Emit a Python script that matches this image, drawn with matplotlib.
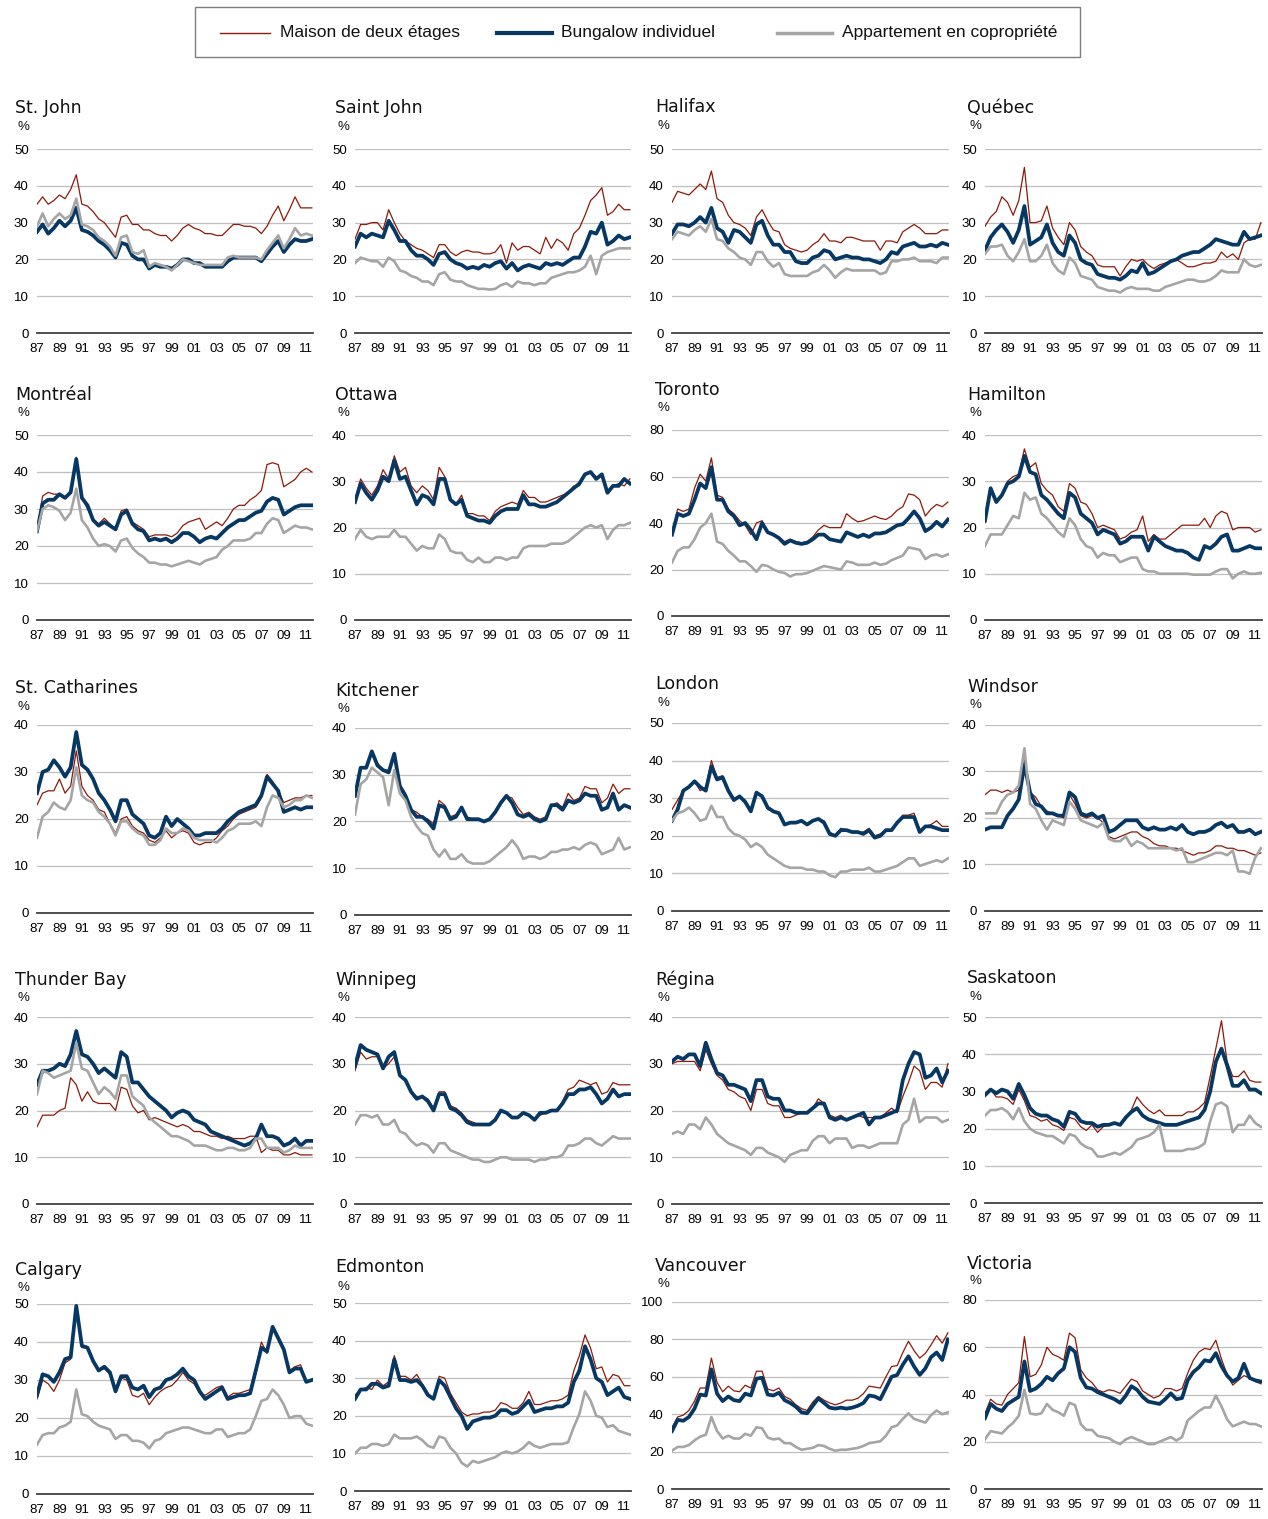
import numpy as np
import matplotlib
matplotlib.use("Agg")
import matplotlib.pyplot as plt
from matplotlib.lines import Line2D
from matplotlib.patches import Rectangle
from matplotlib import font_manager

# ---------------- data (half-yearly, 1987.0 ... 2011.5) ----------------
PERIODS = np.arange(1987.0, 2012.0, 0.5)
TICK_YEARS = [1987, 1989, 1991, 1993, 1995, 1997, 1999, 2001, 2003, 2005, 2007, 2009, 2011]
TICK_LABELS = ["87", "89", "91", "93", "95", "97", "99", "01", "03", "05", "07", "09", "11"]
SERIES_NAMES = ["Maison de deux étages", "Bungalow individuel", "Appartement en copropriété"]

st_john_maison = [35,37,35,36,37.5,36.5,39,43,35,34.5,33,31,30,28,26,31.5,32,29.5,29.5,28,28,27,26.5,26.5,25,26.5,28.5,29.5,28.5,28,27,27,26.5,26.5,28,29.5,29.5,29,29,28.5,27,29,32,34.5,30.5,33.5,37,34,34,34]
st_john_bungalow = [27.5,29.5,27,28.5,30.5,29,30.5,34,28,27.5,26.5,25,24,22.5,20.5,24.5,24,21,20,20,17.5,18.5,18,18,17.5,18.5,20,20,19,19,18,18,18,18,19.5,20.5,20.5,20.5,20.5,20.5,19.5,21.5,23.5,25,22,24,25.5,25,25,25.5]
st_john_appart = [29,32.5,29,31,32.5,31,32,36.5,29.5,29,28,26,25,23.5,21,26,26.5,22,21.5,22.5,18,19,18.5,18,17,18.5,20,19.5,19,18.5,18.5,18.5,18.5,18.5,20.5,21,20.5,20.5,20.5,20.5,20,22.5,24.5,26.5,23,25.5,28.5,26.5,27,26.5]

saint_john_maison = [25.5,29.5,29.5,30,30,28,33.5,30,27,25,24,23,22.5,21.5,20.5,24,24,22,21,22,22.5,22,22,21.5,21.5,22,24,19,24.5,22.5,23.5,23.5,22.5,21.5,26,23,25.5,24.5,22.5,27,28.5,32,36,37.5,39.5,32,33,35,33.5,33.5]
saint_john_bungalow = [23.5,27,26,27,26.5,26,30.5,28,25,25,22.5,21,21,20,18.5,21.5,22,20,19,18.5,17.5,18,17.5,18.5,18,19,19.5,17.5,19,17,18,18.5,18,17.5,19,18.5,19,18.5,19.5,20.5,20.5,23.5,27.5,27,30,24,25,26.5,25.5,26]
saint_john_appart = [19,20.5,20,19.5,19.5,18,20.5,19.5,17,16.5,15.5,15,14,14,13,16,16.5,14.5,14,14,13,12.5,12,12,11.8,12,13,13.5,12.5,14,13.5,13.5,13,13.5,13.5,15,15.5,16,16.5,16.5,17,18,21,16,21,22,22.5,23,23,23]

halifax_maison = [35.5,38.5,38,37.5,39,40.5,39,44,36.5,35.5,32,30,29.5,28.5,26.5,31.5,33.5,30.5,28,27.5,24,23,22.5,22,22.5,24,25,27,25,25,24.5,26,26,25.5,25,25,25,22.5,25,25,24.5,27.5,28.5,29.5,28.5,27,27,27,28,28]
halifax_bungalow = [27,29.5,29.5,29,30,31.5,30,34,28.5,27.5,24.5,28,27.5,26,24.5,29.5,30.5,26.5,24,24,22,22,19.5,19,19,20.5,21,22.5,22,20,20.5,21,20.5,20.5,20,20,19.5,19,20,22,21.5,23.5,24,24.5,23.5,23.5,24,23.5,24.5,24]
halifax_appart = [25.5,27.5,27,26.5,28,29,27.5,31,25.5,25,23,22,20.5,20,18.5,22,22,19.5,18,19,16,15.5,15.5,15.5,15.5,16.5,17,18.5,17,15,16.5,17.5,17,17,17,17,17,16,16.5,19.5,19.5,20,20,20.5,19.5,19.5,19.5,19,20.5,20.5]

quebec_maison = [29,31.5,33,37,35.5,32,36,45,30,30,30.5,34.5,28.5,26,24,30,28,23.5,22,21,18.5,18,18,18,15.5,18,20,19.5,20,18.5,17.5,18.5,19,19.5,20,19,18,18,18.5,19,19,19.5,22,20.5,21.5,20,24.5,25.5,25.5,30]
quebec_bungalow = [22.5,26,28,29.5,27.5,24.5,28,34.5,24,25,26,29.5,24.5,22,21,26.5,24.5,20,19,18.5,16,15.5,15,15,14.5,15.5,17,16.5,19,16,16.5,17.5,18.5,19.5,20,21,21.5,22,22,23,24,25.5,25,24.5,24,24,27.5,25.5,26,26.5]
quebec_appart = [21.5,23.5,23.5,24,21,19.5,22,25.5,19.5,19.5,21,24,19,17,16,20.5,19,15.5,15,14.5,12.5,12,11.5,11.5,11,12,12.5,12,12,12,11.5,11.5,12.5,13,13.5,14,14.5,14.5,14,14,14.5,15.5,17,16.5,16.5,16.5,20,18.5,18,18.5]

montreal_maison = [24,33.5,34.5,34,34,33,35,44,33,30,27,26,27.5,26,24.5,29.5,30,26.5,25.5,24.5,22.5,23,23,23,22.5,23.5,25.5,26.5,27,27.5,24.5,25.5,26.5,25.5,27.5,30,31,31,32.5,33.5,35,42,42.5,42,36,37,38,40,41,40]
montreal_bungalow = [24,31.5,32.5,32.5,34,33,34.5,43.5,33,31,27,25.5,26.5,25.5,24.5,28.5,29.5,26,24.5,24,21.5,22,21.5,22,21,22,23.5,23.5,22.5,21,22,22.5,22,23.5,25,26,27,27,28,29,29.5,32,33,32.5,28.5,29.5,30.5,31,31,31]
montreal_appart = [24,30,31,30.5,29.5,27,29,35.5,27,25,22,20,20.5,20,18.5,21.5,22,19.5,18,17,15.5,15.5,15,15,14.5,15,15.5,16,15.5,15,16,16.5,17,19,20,21.5,21.5,21.5,22,23.5,23.5,26,27.5,27,23.5,24.5,25.5,25,25,24.5]

ottawa_maison = [26,30.5,28.5,27,29,32.5,30.5,35.5,32,33,29,27.5,29,28,26,33,31,26,25,27,23,23,22.5,22.5,21.5,23.5,24.5,25,25.5,25,28,26.5,26.5,25.5,25.5,26,26.5,27,27.5,29,29,31.5,32,31,31,28,29,29.5,29,30.5]
ottawa_bungalow = [25.5,29.5,27.5,26,28,31,30,34.5,30.5,31,28,25,27,26.5,25,30.5,30.5,26,25,26,22.5,22,21.5,21.5,21,22.5,23.5,24,24,24,27,25,25,24.5,24.5,25,25.5,26.5,27.5,28.5,29.5,31.5,32,30.5,31.5,27.5,29,29,30.5,29.5]
ottawa_appart = [17.5,19.5,18,17.5,18,18,18,19.5,18,18,16.5,15,16,15.5,15.5,18.5,17.5,15,14.5,14.5,13,12.5,13.5,12.5,12.5,13.5,13.5,13,13.5,13.5,15.5,16,16,16,16,16.5,16.5,16.5,17,18,19,20,20.5,20,20.5,17.5,19.5,20.5,20.5,21]

toronto_maison = [35,46,45,46,55,61,58,68,52,51,46,44,41,39,35,40,41,36,35,34,32,33,32,31.5,32,34,37,39,38,38,38,44,42,40.5,41,42,43,42,41.5,43,45.5,47,52.5,52,50,43,46,48,47,49]
toronto_bungalow = [35,44,43,44,50,57,55,64,50,50,45,43,39,40,37,33,40,36,35,33.5,31,32.5,31.5,31,31.5,33,35,35,33,32.5,32,36,35,34,35,34,35.5,35.5,36,37.5,39,39.5,42,45,42,36.5,38,40.5,38.5,41.5]
toronto_appart = [23,28,29.5,29.5,33,38,40,44,32,31,28,26,23.5,23.5,21.5,19,22,21.5,20,19,18.5,17,18,18,18.5,19.5,20.5,21.5,21,20.5,20,23.5,23,22,22,22,23,22,22.5,24,25,26,29.5,29,28.5,24.5,26,26.5,25.5,26.5]

hamilton_maison = [21,28.5,26,27,30,31,31.5,37,33,34,29.5,28,27,24.5,23.5,29.5,28.5,25.5,25,23,20,20.5,20,19.5,17.5,18,19,19.5,22.5,17,18.5,17.5,17.5,18.5,19.5,20.5,20.5,20.5,20.5,22,20,22.5,23.5,23,19.5,20,20,20,19,19.5]
hamilton_bungalow = [21.5,28.5,25.5,27,29.5,30,31,35.5,32,31.5,27,26,24.5,23,22,27.5,26.5,23,22,21,18.5,19.5,19,18.5,16.5,17,18,18,18,15,18,17,16,15.5,15,15,14.5,13.5,13,16,15.5,16.5,18,18.5,15,15,15.5,16,15.5,15.5]
hamilton_appart = [16,18.5,18.5,18.5,20.5,22.5,22,27.5,26,26.5,23,22,20.5,19,18,22,20.5,17.5,16,15.5,13.5,14.5,14,14,12.5,13,13.5,13.5,11,10.5,10.5,10,10,10,10,10,10,9.8,9.8,9.8,9.8,10.5,11,11,9,10,10.5,10,10,10.2]

st_catharines_maison = [23,25.5,26,26,28.5,25.5,27,34.5,27,25,24,22,21.5,19,17,20,20.5,18.5,17.5,17,15.5,15,16,17.5,16,17,17.5,17,15,14.5,15,15,16,17.5,18.5,20,21,21.5,22,22.5,24.5,29.5,28,26,23.5,24,24.5,24.5,25,25]
st_catharines_bungalow = [25.5,30,30.5,32.5,31,29,31,38.5,31.5,30.5,28.5,25.5,24,22,19.5,24,24,21,20,19,16.5,16,17,20.5,18.5,20,19,18,16.5,16.5,17,17,17,18,19.5,20.5,21.5,22,22.5,23,25,29,27.5,26,21.5,22,22.5,22,22.5,22.5]
st_catharines_appart = [16,20.5,21.5,23.5,22.5,22,24,31,25,24,23.5,21.5,20.5,19,16.5,19.5,19.5,18,17,16.5,14.5,14.5,15.5,18,17,17,18,17.5,16,15.5,15.5,15.5,15,16,17.5,18,19,19,19,19.5,18.5,22.5,25,24.5,22.5,23,24,24,25,24.5]

kitchener_maison = [25.5,31.5,31.5,35,32.5,31,31,34,28,26,22.5,22,21,20.5,19.5,24.5,23.5,21,21.5,23,21,20.5,20.5,20,20.5,22,24,25.5,25,23,21.5,22,21,20.5,21,23.5,24,23,26,24.5,25,27.5,27,27,24,25,28,26,27,27]
kitchener_bungalow = [25.5,31.5,31.5,35,32,31,30.5,34.5,27.5,25.5,22.5,21,21,20,18.5,23.5,23,20.5,21,23,20.5,20.5,20.5,20,20.5,22,24,25.5,24,21.5,21,21.5,20.5,20,20.5,23.5,23.5,22.5,24.5,24,24.5,26,25.5,25.5,22.5,23,26,22.5,23.5,23]
kitchener_appart = [21.5,28,29,31.5,30.5,29.5,23.5,31,26,24.5,21,19,17.5,17,14,12.5,14,12,12,13,11.5,11,11,11,11.5,12.5,13.5,14.5,16,14.5,12,12.5,12.5,12,12.5,13.5,13.5,14,14,14.5,14,15,15.5,15,13,13.5,14,16.5,14,14.5]

london_maison = [27,29.5,32,33,34.5,32,33,40,35.5,36,32,30,30.5,29.5,27,31.5,30.5,27,26.5,26,23,23.5,23.5,24,23,24,24.5,24,21,20,22,21.5,21,21,21,22,20,20.5,21.5,21.5,23.5,25.5,25.5,26,21.5,22.5,23,24,22.5,22.5]
london_bungalow = [24,27,32,33,34.5,33,32,38.5,35,35.5,32,29.5,30.5,29,26.5,31.5,30.5,27.5,26.5,26,23,23.5,23.5,24,23,24,24.5,23.5,20.5,20,21.5,21.5,21,21,20.5,21.5,19.5,20,21.5,21.5,23.5,25,25,25,21,22.5,22.5,22,21.5,21.5]
london_appart = [24,26,26.5,27.5,26,24,24.5,28,25,25,22,20.5,20,19,17,18,17,15,14,13,12,11.5,11.5,11.5,11,11,10.5,10.5,9.5,9,10.5,10.5,11,11,11,11.5,10.5,10.5,11,11.5,12,13,14,14,12,12.5,13,13.5,13,14]

windsor_maison = [25,26,26,25.5,26,25.5,26,32.5,25.5,24.5,22.5,21.5,21,20.5,20,25,23,20.5,20,20.5,20,19,16,15.5,16,16.5,17,17,16,15.5,14.5,14,14,13.5,13.5,13,12.5,12,12.5,12.5,13,14,14,13.5,13.5,13,13,12.5,12,12.5]
windsor_bungalow = [17.5,18,18,18,20.5,22,24,31.5,25.5,23,22.5,21,21,20.5,20.5,25.5,24.5,21,20.5,21,20,20.5,17,17.5,18.5,19.5,19.5,19.5,18,17.5,18,17.5,17.5,18,17.5,18.5,17,16.5,17,17,17.5,18.5,19,18,18.5,17,17,17.5,16.5,17]
windsor_appart = [21,21,21,23.5,25,25.5,27,35,23,22,19.5,17.5,19.5,19,18.5,23.5,22,19.5,19,18.5,18,19,15.5,15,15,16,14,15,14.5,13.5,13.5,13.5,13.5,13.5,13,13.5,10.5,10.5,11,11.5,12,12.5,12.5,12,13,8.5,8.5,8,11.5,13.5]

thunder_bay_maison = [16.5,19,19,19,20,20.5,27,25.5,22,24,22,21.5,21.5,21.5,20,25,24.5,21,19.5,20,18,18.5,18,17.5,17,16.5,17,16.5,15.5,15.5,15,14.5,14.5,14,14.5,14,14,14,14.5,14.5,11,12,11.5,11.5,10.5,10.5,11,10.5,10.5,10.5]
thunder_bay_bungalow = [25.5,28.5,28.5,29,30,29.5,32,37,32,31.5,30,28,29,28,27,32.5,31.5,26,26,24.5,23,22,21,20,18.5,19.5,20,19.5,18,17.5,17,15.5,15,14.5,14,13.5,13,12.5,13,14,17,14.5,14.5,14,12.5,13,14,12.5,13.5,13.5]
thunder_bay_appart = [23.5,28.5,28,27,27.5,28,28.5,34.5,29,28.5,26,23.5,25,24,22.5,27.5,27.5,23,22,21,18.5,17.5,16.5,15.5,14.5,14.5,14,13.5,12.5,12.5,12.5,12,11.5,11.5,12,12,11.5,11.5,12,14,14,12,12,12,11,11.5,12.5,12,12,12]

winnipeg_maison = [28.5,32.5,31,31.5,31.5,29,30,31.5,27.5,26.5,24,23,23,22.5,20.5,24,24,21,20.5,19.5,18,17.5,17,17,17,18,20,19.5,18.5,18.5,19.5,19,18,19,19.5,20,20,22,24.5,25,26.5,26,25.5,26,23.5,24,26,25.5,25.5,25.5]
winnipeg_bungalow = [29.5,34,33,32.5,32,29,31.5,32.5,27.5,26.5,24,22.5,23,22,20,23.5,23.5,20.5,20,19,17.5,17,17,17,17,18,20,19.5,18.5,18.5,19.5,19,18,19.5,19.5,20,20,21.5,23.5,23.5,24.5,24.5,25,23.5,21.5,22.5,24.5,23,23.5,23.5]
winnipeg_appart = [17,19,19,18.5,19,17,17,18,15.5,15,13.5,12.5,13,12.5,11,13,13,11.5,11,10.5,10,9.5,9.5,9,9,9.5,10,10,9.5,9.5,9.5,9.5,9,9.5,9.5,10,10,10.5,12.5,12.5,13,14,14,13,12.5,13.5,14.5,14,14,14]

regina_maison = [30,30.5,30.5,30.5,30.5,28.5,33,30,27.5,26.5,24.5,24,23,22.5,20,24.5,24.5,21.5,21,21,18.5,18.5,19,19.5,19.5,20.5,22.5,21.5,19,18.5,19,18,18.5,19,18.5,18.5,18.5,18.5,19.5,20.5,19.5,23,26,29.5,28.5,24.5,26,26,25,30]
regina_bungalow = [30.5,31.5,31,32,32,29.5,34.5,31,28,27.5,25.5,25.5,25,24.5,22,26.5,26.5,23,22.5,22.5,20,20,19.5,19.5,19.5,20.5,21.5,21.5,18.5,18,18.5,18,18.5,19,19.5,17,18.5,18.5,19,19.5,20,26.5,30,32.5,32,27,27.5,29,26,28.5]
regina_appart = [15,15.5,15,17,17,16,18.5,17,15,14,13,12.5,12,11.5,10.5,12,12,11,10.5,10,9,10.5,11,11.5,11.5,13.5,14.5,14.5,13,14,14,14,12,12.5,12.5,12,12.5,13,13,13,13,17,18,22.5,17.5,18.5,18.5,18.5,17.5,18]

saskatoon_maison = [29.5,30.5,28.5,28.5,28,26.5,30.5,27.5,23.5,23,22,22.5,21,20.5,19.5,23,22.5,20.5,19.5,21,19,20.5,21,21.5,21,22.5,25,28.5,26.5,25,24,25,23.5,23.5,23.5,23.5,24.5,24.5,25.5,27,34,41.5,49,38,34,34,35.5,33,32.5,32.5]
saskatoon_bungalow = [29,30.5,29.5,30.5,30,28,32,29,25.5,24,23.5,23.5,22.5,22,20.5,24.5,24,22,21.5,21.5,20.5,21,21,21.5,21,23,24.5,25.5,23.5,22.5,22,21.5,21,21,21,21.5,22,22.5,23,25,30,38,41.5,37,31.5,31.5,33,30.5,30.5,29.5]
saskatoon_appart = [23.5,25,25,25.5,24.5,22.5,25.5,22,20,19,18.5,18,18,17,16,18.5,18,16,15,14.5,12.5,12.5,13,13.5,13,14,15,17,17.5,18,19,21,14,14,14,14,14.5,14.5,15,16,22,26.5,27,26,19,21,21,23.5,21.5,20.5]

calgary_maison = [25,30,29,27,30,34.5,35.5,49,38.5,38.5,35,32.5,33,31.5,27,30.5,30,26,25.5,26.5,23.5,25.5,27,28,28.5,30,32,30,29,26.5,26,27,28,28.5,25.5,26.5,26.5,27,27.5,33,40,37,44,41.5,38.5,32.5,33.5,34,29.5,30]
calgary_bungalow = [26,31.5,31,29.5,32,35.5,36,49.5,39,38.5,35,32.5,33.5,32,27,31,31,28,27.5,28.5,25.5,27.5,28,30,30.5,31.5,33,31,30,27,25,26,27,28,25,25.5,26,26,26.5,32.5,38.5,37.5,44,41,38,32,33,33,29.5,30]
calgary_appart = [13,15.5,16,16,17.5,18,19,27.5,21,20.5,19,18,17.5,17,14.5,15.5,15.5,14,14,13.5,12,14,14.5,16,16.5,17,17.5,17.5,17,16.5,16,16,17,17,15,15.5,16,16,17,20.5,24.5,25,27.5,26,23.5,20,20.5,20.5,18.5,18]

edmonton_maison = [25.5,27,27.5,27,29.5,28,29,36,30.5,30.5,29.5,31,28.5,26,24.5,30.5,30,26,23.5,21,20,20.5,20.5,21,21,21.5,23.5,23,22,22,23.5,26.5,23,23,23.5,24,24,24.5,25.5,32,36,41.5,38,32.5,33,29,31,30.5,28,28]
edmonton_bungalow = [24.5,27,27,28.5,28.5,27.5,28,35,29.5,29.5,29,29.5,28,25.5,24.5,29.5,28,25,22,20,16.5,18.5,19,19.5,19.5,20,21.5,21.5,20.5,21,22.5,24,21,21.5,22,22,22.5,22.5,23.5,29,32,38.5,35,30,29,25.5,26.5,27.5,25,24.5]
edmonton_appart = [10,11.5,11.5,12.5,12.5,12,12.5,15,14,14,14,14.5,13.5,12,11.5,14.5,14,11.5,10,7.5,6.5,8,7.5,8,8.5,9,10,10.5,10,10.5,11.5,13,12,11.5,12,12.5,12.5,12.5,13,17,20.5,26.5,24,20,19.5,17,17.5,16,15.5,15]

vancouver_maison = [33,38.5,39.5,42,47,54,54,70,57,52,55,52.5,52,55.5,54,63,63,53.5,52.5,54,49.5,48,45,43,42,46.5,49.5,47.5,46,45,46,47.5,47.5,48.5,51,55,54.5,54,60,65.5,66,73,79,74,70,72.5,77,82,78,83.5]
vancouver_bungalow = [31,37,36.5,38.5,43,50.5,50,64,51,47,49.5,47.5,47,51,50,59,59.5,50.5,50,51.5,47.5,46,44,41,40.5,44.5,48.5,46,43.5,43,43.5,43,43.5,44.5,46,50,49.5,48,54,60,61,66.5,71,65.5,61,64.5,70.5,73,69,80]
vancouver_appart = [20.5,22.5,22.5,23.5,26,28,29,38.5,31,27,28.5,27,27,29.5,28.5,33,32.5,27.5,26.5,27,24.5,24.5,22.5,21,21.5,22,23.5,23,21.5,20.5,21,21,21.5,22,23,24.5,25,25.5,28.5,33,34,37.5,40.5,37.5,36.5,35.5,39.5,42,40,41]

victoria_maison = [32,38,36,35.5,40,42.5,45,64.5,47.5,48.5,52.5,60,57,56,54.5,66,64,50.5,47,45,42,41,42,41.5,40.5,43.5,46.5,45.5,41.5,40,38.5,39.5,42.5,42.5,41.5,42.5,49,54.5,58,59.5,59,63,55,48.5,44,46,48,47,45.5,44.5]
victoria_bungalow = [30,36,34,33,36,37.5,39,54,41.5,42.5,44.5,47.5,46,49,51,60,58,47,43,42.5,41,40,39,38,36.5,39.5,43.5,42,39,37,36.5,36,38,40.5,38,38.5,46,49.5,51.5,54.5,54,57.5,52,48,45.5,47,53,47,46,45.5]
victoria_appart = [21,24.5,24,23.5,26,28,31,42,32,31.5,32,36,33.5,32.5,31,36.5,35.5,27.5,25,25,22.5,22,21.5,20,19,21,22,21,20,19,19,20,21,22,20.5,22,29,31,33,34.5,34.5,39.5,35,29.5,26.5,27.5,28.5,27.5,27.5,26.5]

# ---------------- panel setup ----------------
CITIES = [
    ("St. John", st_john_maison, st_john_bungalow, st_john_appart, 50, 10),
    ("Saint John", saint_john_maison, saint_john_bungalow, saint_john_appart, 50, 10),
    ("Halifax", halifax_maison, halifax_bungalow, halifax_appart, 50, 10),
    ("Québec", quebec_maison, quebec_bungalow, quebec_appart, 50, 10),
    ("Montréal", montreal_maison, montreal_bungalow, montreal_appart, 50, 10),
    ("Ottawa", ottawa_maison, ottawa_bungalow, ottawa_appart, 40, 10),
    ("Toronto", toronto_maison, toronto_bungalow, toronto_appart, 80, 20),
    ("Hamilton", hamilton_maison, hamilton_bungalow, hamilton_appart, 40, 10),
    ("St. Catharines", st_catharines_maison, st_catharines_bungalow, st_catharines_appart, 40, 10),
    ("Kitchener", kitchener_maison, kitchener_bungalow, kitchener_appart, 40, 10),
    ("London", london_maison, london_bungalow, london_appart, 50, 10),
    ("Windsor", windsor_maison, windsor_bungalow, windsor_appart, 40, 10),
    ("Thunder Bay", thunder_bay_maison, thunder_bay_bungalow, thunder_bay_appart, 40, 10),
    ("Winnipeg", winnipeg_maison, winnipeg_bungalow, winnipeg_appart, 40, 10),
    ("Régina", regina_maison, regina_bungalow, regina_appart, 40, 10),
    ("Saskatoon", saskatoon_maison, saskatoon_bungalow, saskatoon_appart, 50, 10),
    ("Calgary", calgary_maison, calgary_bungalow, calgary_appart, 50, 10),
    ("Edmonton", edmonton_maison, edmonton_bungalow, edmonton_appart, 50, 10),
    ("Vancouver", vancouver_maison, vancouver_bungalow, vancouver_appart, 100, 20),
    ("Victoria", victoria_maison, victoria_bungalow, victoria_appart, 80, 20),
]

# layout in pixels: (top of plot, bottom of plot, title y, % y)
LAYOUT = [
    (149, 333, 108, 127), (149, 333, 108, 127), (149, 333, 107, 126), (149, 333, 108, 126),
    (435, 620, 395, 413), (435, 620, 395, 413), (430, 616, 390, 408), (435, 620, 395, 413),
    (725, 913, 688, 707), (728, 915, 691, 709), (723, 911, 684, 703), (725, 911, 687, 705),
    (1017, 1204, 980, 998), (1017, 1204, 980, 998), (1017, 1204, 980, 998), (1017, 1203, 978, 997),
    (1304, 1494, 1270, 1288), (1303, 1491, 1267, 1287), (1302, 1489, 1266, 1284), (1300, 1489, 1264, 1281),
]
COL_X = [(37, 313), (355, 631), (672, 949), (985, 1262)]
TITLE_X = [15, 335, 655, 967]

W, H = 1268, 1519
COLORS = ["#8B1A0A", "#073763", "#A5A5A5"]
WIDTHS = [0.9, 2.7, 1.9]

avail = {f.name for f in font_manager.fontManager.ttflist}
tick_family = "Liberation Sans Narrow" if "Liberation Sans Narrow" in avail else "Liberation Sans"

fig = plt.figure(figsize=(W / 100, H / 100), dpi=100)

for i, (name, s1, s2, s3, ymax, ystep) in enumerate(CITIES):
    col = i % 4
    top, bot, ty, py = LAYOUT[i]
    x0, x1 = COL_X[col]
    ax = fig.add_axes([x0 / W, 1 - bot / H, (x1 - x0) / W, (bot - top) / H])
    for vals, c, lw, z in zip((s1, s2, s3), COLORS, WIDTHS, (3, 4, 5)):
        ax.plot(PERIODS, vals, color=c, lw=lw, zorder=z, solid_joinstyle="round")
    ax.set_xlim(1987.0, 2011.6)
    ax.set_ylim(0, ymax)
    yt = np.arange(0, ymax + 0.1, ystep)
    ax.set_yticks(yt)
    ax.set_yticklabels([f"{int(v)}" for v in yt], family=tick_family, fontsize=9.5, color="#000000")
    ax.set_xticks(TICK_YEARS)
    ax.set_xticklabels(TICK_LABELS, family=tick_family, fontsize=9.5, color="#000000")
    ax.tick_params(axis="both", length=0)
    ax.tick_params(axis="x", pad=7)
    ax.tick_params(axis="y", pad=6)
    for v in yt[1:]:
        ax.axhline(v, color="#BFBFBF", lw=0.9, zorder=1)
    for s in ("top", "right", "left"):
        ax.spines[s].set_visible(False)
    ax.spines["bottom"].set_color("#404040")
    ax.spines["bottom"].set_linewidth(1.3)
    ax.spines["bottom"].set_zorder(6)
    ax.patch.set_alpha(0)
    fig.text(TITLE_X[col] / W, 1 - ty / H, name, fontsize=12.5, family="DejaVu Sans",
             ha="left", va="center", color="#111111")
    fig.text((TITLE_X[col] + 3) / W, 1 - py / H, "%", fontsize=9.5, family="Liberation Sans",
             ha="left", va="center", color="#111111")

# legend box drawn by hand to reproduce the equal column spacing
fig.add_artist(Rectangle((195 / W, 1 - 57 / H), (1080 - 195) / W, 50 / H,
                         transform=fig.transFigure, fill=False, edgecolor="#7F7F7F", lw=1.0))
leg_y = 1 - 33 / H
for (lx0, lx1, tx), name, c, lw in zip([(220, 270, 280), (497, 552, 561), (777, 832, 842)],
                                       SERIES_NAMES, COLORS, [1.0, 3.0, 2.5]):
    fig.add_artist(Line2D([lx0 / W, lx1 / W], [leg_y, leg_y], transform=fig.transFigure,
                          color=c, lw=lw))
    fig.text(tx / W, leg_y, name, fontsize=12.5, family="Liberation Sans",
             ha="left", va="center", color="#111111")

fig.savefig("out.png", dpi=100)
